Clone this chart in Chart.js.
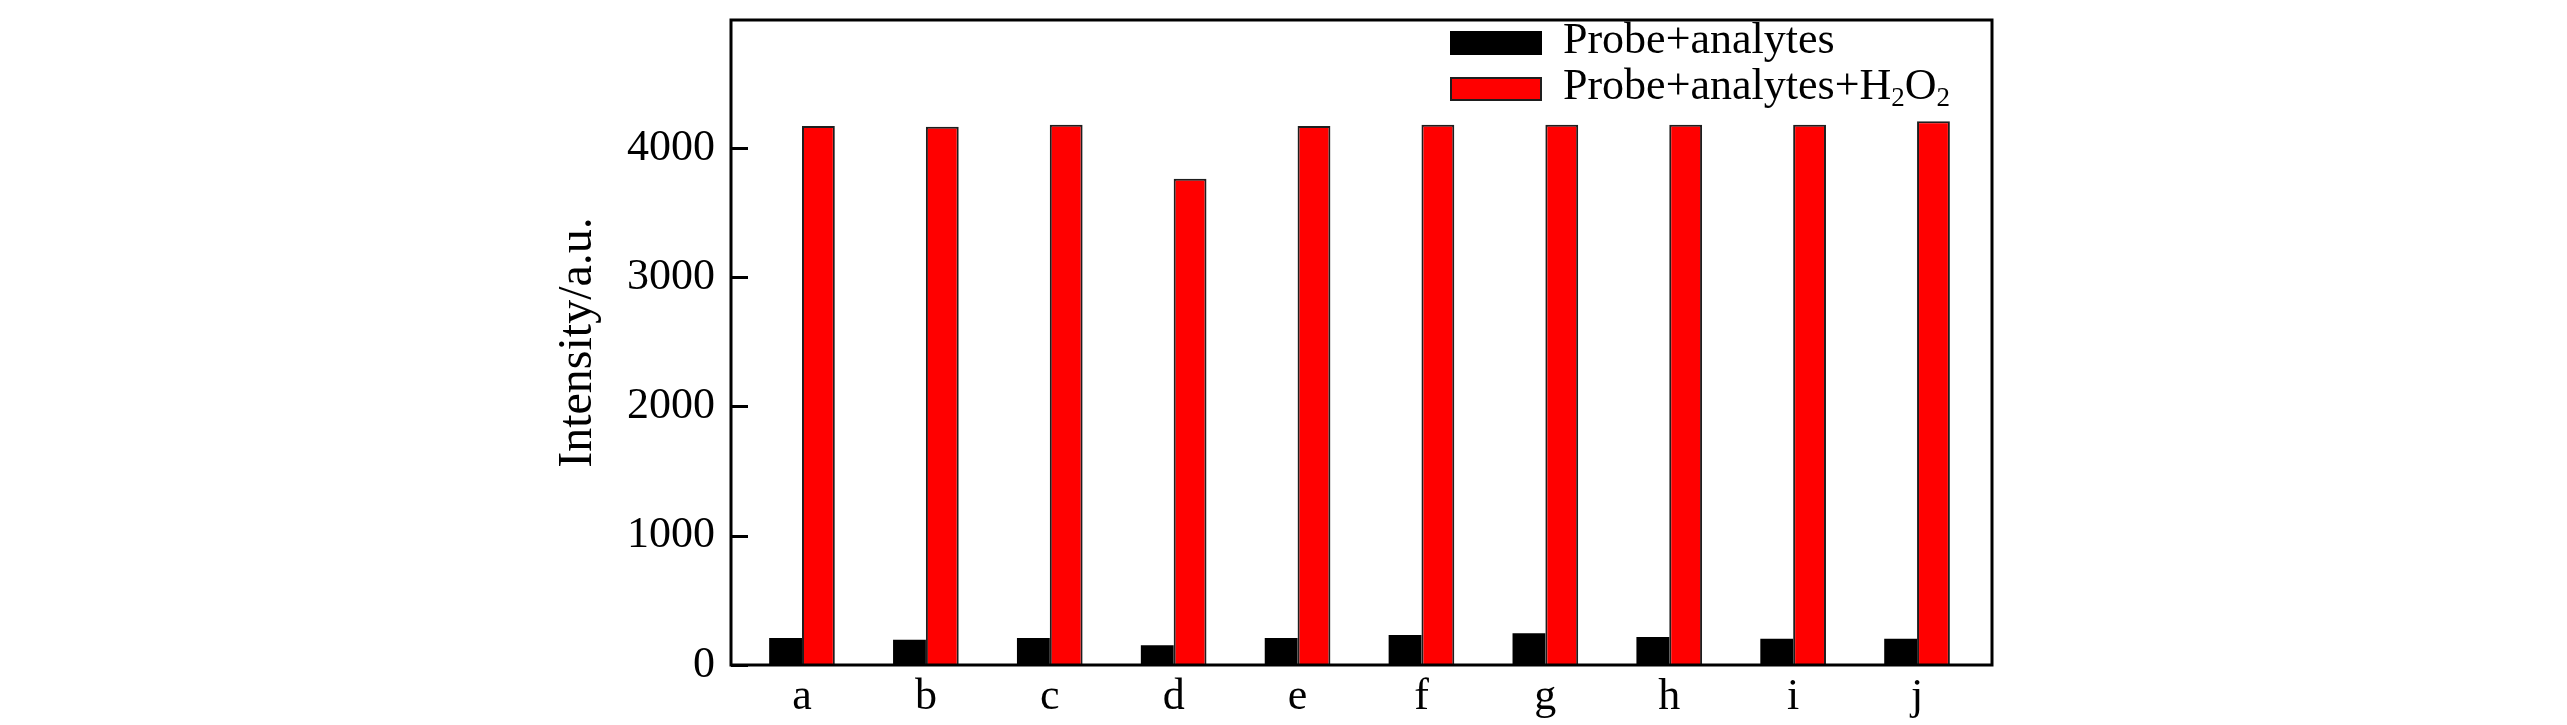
<!DOCTYPE html>
<html><head><meta charset="utf-8">
<script src="https://cdn.jsdelivr.net/npm/chart.js@4.4.1/dist/chart.umd.min.js"></script>
<style>html,body{margin:0;padding:0;background:#fff;overflow:hidden}</style>
</head><body>
<canvas id="c" width="2567" height="725" style="display:block;width:2567px;height:725px"></canvas>
<script>
const categories = ['a','b','c','d','e','f','g','h','i','j'];
const probeAnalytes = [208,196,208,152,208,232,245,217,204,204];
const probeAnalytesH2O2 = [4170,4165,4180,3762,4170,4180,4180,4180,4180,4207];
const yTickValues = [0,1000,2000,3000,4000];
const seriesNames = ['Probe+analytes','Probe+analytes+H\u2082O\u2082'];
const yTitle = 'Intensity/a.u.';

const FONT = '"Liberation Serif", "Times New Roman", serif';

const toPoints = arr => arr.map((v,i)=>({x:i+1, y:v}));

const framePlugin = {
  id:'frame',
  afterDatasetsDraw(chart){
    const {ctx, chartArea:a, scales:{y}} = chart;
    ctx.save();
    ctx.strokeStyle='#000';
    ctx.lineWidth=3;
    ctx.strokeRect(a.left, a.top, a.right-a.left, a.bottom-a.top);
    y.ticks.forEach(t=>{
      const py = Math.round(y.getPixelForValue(t.value))+0.5;
      ctx.beginPath(); ctx.moveTo(a.left, py); ctx.lineTo(a.left+17, py); ctx.stroke();
    });
    ctx.restore();
  }
};

function drawRich(ctx, text, x, y, size){
  let cx = x;
  for (const ch of text){
    if (ch === '\u2082'){
      ctx.font = Math.round(size*0.62)+'px '+FONT;
      ctx.fillText('2', cx, y+7);
      cx += ctx.measureText('2').width;
    } else {
      ctx.font = size+'px '+FONT;
      ctx.fillText(ch, cx, y);
      cx += ctx.measureText(ch).width;
    }
  }
}

const legendPlugin = {
  id:'customLegend',
  afterDraw(chart){
    const {ctx} = chart;
    const rows = [{top:31, base:53},{top:77, base:99}];
    ctx.save();
    ctx.textBaseline='alphabetic';
    ctx.textAlign='left';
    chart.data.datasets.forEach((ds,i)=>{
      const r = rows[i];
      ctx.fillStyle = ds.backgroundColor;
      ctx.fillRect(1450, r.top, 92, 24);
      if (ds.borderWidth){
        ctx.strokeStyle = ds.borderColor; ctx.lineWidth = 2;
        ctx.strokeRect(1451, r.top+1, 90, 22);
      }
      ctx.fillStyle='#000';
      drawRich(ctx, ds.label, 1563, r.base, 44);
    });
    ctx.restore();
  }
};

new Chart(document.getElementById('c'), {
  type:'bar',
  data:{
    datasets:[
      {label:seriesNames[0], data:toPoints(probeAnalytes), backgroundColor:'#000000', borderWidth:0},
      {label:seriesNames[1], data:toPoints(probeAnalytesH2O2), backgroundColor:'#ff0000', borderColor:'#1e1e1e', borderWidth:2}
    ]
  },
  options:{
    responsive:false,
    animation:false,
    devicePixelRatio:1,
    layout:{padding:{left:530, right:575, top:20, bottom:0}},
    datasets:{bar:{categoryPercentage:0.53, barPercentage:1.0, grouped:true}},
    plugins:{legend:{display:false}, tooltip:{enabled:false}},
    scales:{
      x:{
        type:'linear', min:0.427, max:10.605, offset:false,
        grid:{display:false, drawTicks:false, offset:false}, border:{display:false},
        afterBuildTicks:s=>{ s.ticks = categories.map((c,i)=>({value:i+1})); },
        ticks:{callback:(v)=>categories[v-1] ?? '', color:'#000', padding:10, maxRotation:0, autoSkip:false,
               font:{family:FONT, size:44, lineHeight:1}},
        afterFit:s=>{ s.height = 60; s.paddingLeft=0; s.paddingRight=0; }
      },
      y:{
        type:'linear', min:0, max:4990,
        grid:{display:false, drawTicks:false}, border:{display:false},
        afterBuildTicks:s=>{ s.ticks = yTickValues.map(v=>({value:v})); },
        ticks:{callback:(v)=>String(v), color:'#000', padding:16, font:{family:FONT, size:44, lineHeight:1}},
        title:{display:true, text:yTitle, color:'#000', padding:{top:24, bottom:0},
               font:{family:FONT, size:48, lineHeight:1}},
        afterFit:s=>{ s.width = 201; s.paddingTop=0; s.paddingBottom=0; }
      }
    }
  },
  plugins:[framePlugin, legendPlugin]
});
</script>
</body></html>
